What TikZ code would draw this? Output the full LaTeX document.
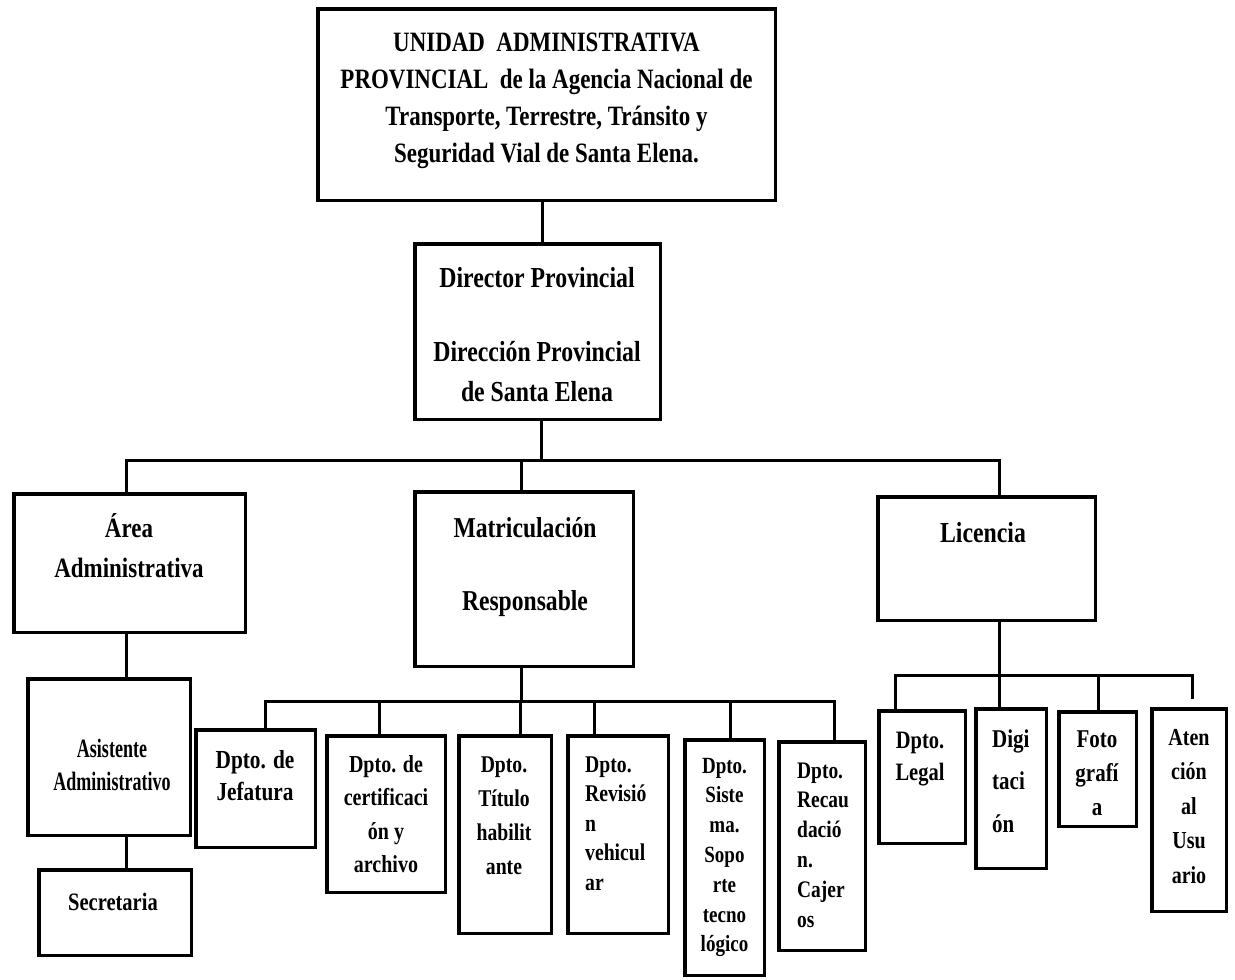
\documentclass[tikz,border=0pt]{standalone}
\usepackage{fontspec}
\newfontfamily\cf{Liberation Serif}[FakeStretch=0.82]
\newfontfamily\cfn{Liberation Serif}[FakeStretch=0.68]
\newcommand{\centtxt}[3]{{\cf\bfseries\fontsize{#1}{#2}\selectfont\parbox[t]{700pt}{\centering #3}}}
\newcommand{\narrowtxt}[3]{{\cfn\bfseries\fontsize{#1}{#2}\selectfont\parbox[t]{700pt}{\centering #3}}}
\newcommand{\lefttxt}[3]{{\cf\bfseries\fontsize{#1}{#2}\selectfont\parbox[t]{300pt}{\raggedright #3}}}
\newcommand{\bx}[5]{\node[box, minimum width={#4-#2-3.5}, minimum height={#5-#3-3.5}] (#1) at ({(#2+#4)/2},{(#3+#5)/2}) {};}
\begin{document}
\begin{tikzpicture}[x=1pt,y=-1pt,
  box/.style={draw, line width=3.5pt, inner sep=0pt},
  conn/.style={line width=3pt},
  txt/.style={inner sep=0pt, anchor=base},
  ltxt/.style={inner sep=0pt, anchor=base west}]
\useasboundingbox (0,0) rectangle (1235,980);

% boxes
\bx{top}{316}{7}{777}{202}
\bx{dir}{413}{242}{662}{421}
\bx{area}{12}{492}{247}{634}
\bx{mat}{413}{490}{635}{668}
\bx{lic}{876}{495}{1097}{622}
\bx{asis}{26}{677}{192}{837}
\bx{sec}{37}{868}{193}{957}
\bx{jef}{194}{728}{317}{849}
\bx{cert}{325}{734}{447}{894}
\bx{tit}{457}{734}{553}{935}
\bx{rev}{566}{734}{670}{935}
\bx{sis}{683}{738}{766}{977}
\bx{rec}{777}{740}{867}{952}
\bx{leg}{877}{709}{967}{845}
\bx{dig}{974}{707}{1048}{870}
\bx{foto}{1057}{710}{1138}{828}
\bx{ate}{1150}{707}{1228}{913}

% texts
\node[txt] (t-top) at (546.5,51) {\centtxt{28}{37}{UNIDAD\ \ ADMINISTRATIVA\hspace*{18pt}\\PROVINCIAL\ \ de la Agencia Nacional de\\Transporte, Terrestre, Tránsito y\\Seguridad Vial de Santa Elena.}};
\node[txt] (t-dir) at (537,287) {\centtxt{29}{40}{Director Provincial\\[34pt]Dirección Provincial\\de Santa Elena}};
\node[txt] (t-area) at (129,537) {\centtxt{28}{40}{Área\\Administrativa}};
\node[txt] (t-mat) at (525,537) {\centtxt{28.8}{40}{Matriculación\\[33pt]Responsable}};
\node[txt] (t-lic) at (983,542) {\centtxt{29}{40}{Licencia}};
\node[txt] (t-asis) at (112,757) {\narrowtxt{26.5}{33}{Asistente\\Administrativo}};
\node[txt] (t-sec) at (113,910) {\centtxt{25}{32}{Secretaria}};
\node[txt] (t-jef) at (255,768) {\centtxt{26}{32}{Dpto. de\\Jefatura}};
\node[txt] (t-cert) at (386,772) {\centtxt{24.4}{33.5}{Dpto. de\\certificaci\\ón y\\archivo}};
\node[txt] (t-tit) at (504,772) {\centtxt{24}{34.3}{Dpto.\\Título\\habilit\\ante}};
\node[ltxt] (t-rev) at (585,772) {\lefttxt{24}{29.5}{Dpto.\\Revisió\\n\\vehicul\\ar}};
\node[txt] (t-sis) at (724.5,773) {\centtxt{23.2}{29.8}{Dpto.\\Siste\\ma.\\Sopo\\rte\\tecno\\lógico}};
\node[ltxt] (t-rec) at (797,778) {\lefttxt{23.7}{29.8}{Dpto.\\Recau\\dació\\n.\\Cajer\\os}};
\node[txt] (t-leg) at (920,748) {\centtxt{25}{32}{Dpto.\\Legal}};
\node[ltxt] (t-dig) at (992,747) {\lefttxt{25.6}{42.5}{Digi\\taci\\ón}};
\node[txt] (t-foto) at (1097,747) {\centtxt{25.6}{34}{Foto\\grafí\\a}};
\node[txt] (t-ate) at (1189,745) {\centtxt{24.4}{34.5}{Aten\\ción\\al\\Usu\\ario}};

% connectors
\coordinate (b1) at (541,460);
\coordinate (b2) at (521,701);
\coordinate (b3) at (999,675);
\coordinate (ateend) at ([xshift=3pt,yshift=8pt]ate.north);

\draw[conn] ([xshift=-4.5pt]top.south) -- ([xshift=-4.5pt]top.south |- dir.north);
\draw[conn] ([xshift=3.5pt]dir.south) -- ([xshift=3.5pt]dir.south |- b1);
\draw[conn] ([xshift=-3.5pt]area.north) |- (b1) -| ([xshift=12.5pt]lic.north);
\draw[conn] ([xshift=-3pt]mat.north) -- ([xshift=-3pt]mat.north |- b1);

\draw[conn] ([xshift=-3.5pt]area.south) -- ([xshift=-3.5pt]area.south |- asis.north);
\draw[conn] ([xshift=17pt]asis.south) -- ([xshift=17pt]asis.south |- sec.north);

\draw[conn] ([xshift=-3pt]mat.south) -- (b2);
\draw[conn] ([xshift=9.5pt]jef.north) |- (b2) -| ([xshift=12pt]rec.north);
\foreach \n/\s in {cert/-7, tit/15, rev/-24, sis/5.5}
  \draw[conn] ([xshift=\s pt]\n.north) -- ([xshift=\s pt]\n.north |- b2);

\draw[conn] ([xshift=12.5pt]lic.south) -- (b3);
\draw[conn] ([xshift=-27pt]leg.north) |- (b3) -| (ateend);
\draw[conn] ([xshift=-12pt]dig.north) -- ([xshift=-12pt]dig.north |- b3);
\draw[conn] ([xshift=0.5pt]foto.north) -- ([xshift=0.5pt]foto.north |- b3);
\end{tikzpicture}
\end{document}
